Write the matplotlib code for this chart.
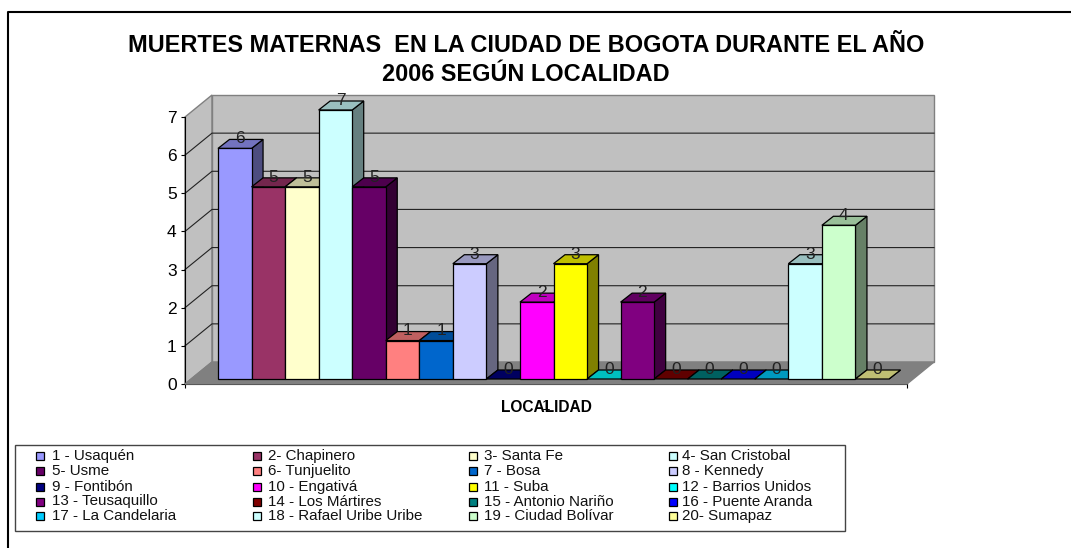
#!/usr/bin/env python3

"""Muertes maternas en Bogota 2006, 3D look bar chart."""

import matplotlib
matplotlib.use('Agg')
import matplotlib.pyplot as plt
from matplotlib.colors import to_rgb
from matplotlib.patches import Polygon, Rectangle

plt.rcParams['font.family'] = ['Liberation Sans', 'DejaVu Sans']

TITLE = 'MUERTES MATERNAS  EN LA CIUDAD DE BOGOTA DURANTE EL AÑO\n2006 SEGÚN LOCALIDAD'
X_TITLE = 'LOCALIDAD'
CATEGORY = '1'

LOCALIDADES = ['1 - Usaquén', '2- Chapinero', '3- Santa Fe', '4- San Cristobal',
               '5- Usme', '6- Tunjuelito', '7 - Bosa', '8 - Kennedy',
               '9 - Fontibón', '10 - Engativá', '11 - Suba', '12 - Barrios Unidos',
               '13 - Teusaquillo', '14 - Los Mártires', '15 - Antonio Nariño', '16 - Puente Aranda',
               '17 - La Candelaria', '18 - Rafael Uribe Uribe', '19 - Ciudad Bolívar', '20- Sumapaz']
MUERTES = [6, 5, 5, 7, 5, 1, 1, 3, 0, 2, 3, 0, 2, 0, 0, 0, 0, 3, 4, 0]
COLORES = ['#9999FF', '#993366', '#FFFFCC', '#CCFFFF',
           '#660066', '#FF8080', '#0066CC', '#CCCCFF',
           '#000080', '#FF00FF', '#FFFF00', '#00FFFF',
           '#800080', '#800000', '#008080', '#0000FF',
           '#00CCFF', '#CCFFFF', '#CCFFCC', '#FFFF99']
Y_TICKS = [0, 1, 2, 3, 4, 5, 6, 7]

W_PX = 1071
H_PX = 548


def px_axes(fig, left, top, right, bottom):
    """Add an axes given its box in image pixels (y down)."""
    return fig.add_axes([left / W_PX, 1 - bottom / H_PX,
                         (right - left) / W_PX, (bottom - top) / H_PX])


def shade(color, factor):
    return tuple(c * factor for c in to_rgb(color))


def draw_frame(ax):
    """Walls, floor and gridlines; ax is the front plane of the box."""
    depth_x = 27 / 722
    depth_y = 22 / (267 / 7)
    grey = '#808080'

    left_wall = [(0, 0), (depth_x, depth_y), (depth_x, 7 + depth_y), (0, 7)]
    back_wall = [(depth_x, depth_y), (1 + depth_x, depth_y),
                 (1 + depth_x, 7 + depth_y), (depth_x, 7 + depth_y)]
    floor = [(0, 0), (1, 0), (1 + depth_x, depth_y), (depth_x, depth_y)]

    ax.add_patch(Polygon(left_wall, closed=True, facecolor='#C0C0C0', edgecolor=grey,
                         linewidth=1, clip_on=False, zorder=1))
    ax.add_patch(Polygon(back_wall, closed=True, facecolor='#C0C0C0', edgecolor=grey,
                         linewidth=1, clip_on=False, zorder=1))
    for tick in Y_TICKS[1:-1]:
        ax.plot([0, depth_x, 1 + depth_x], [tick, tick + depth_y, tick + depth_y],
                color='#222222', linewidth=0.8, clip_on=False, zorder=2)
    ax.add_patch(Polygon(floor, closed=True, facecolor=grey, edgecolor=grey,
                         linewidth=1, clip_on=False, zorder=3))

    ax.set_xlim(0, 1)
    ax.set_ylim(0, 7)
    ax.set_yticks(Y_TICKS)
    ax.tick_params(axis='y', length=3, width=0.8, pad=3, labelsize=12.5)
    ax.set_xticks([0, 1])
    ax.set_xticklabels(['', ''])
    ax.tick_params(axis='x', which='major', length=3, width=0.8)
    ax.set_xticks([0.5], minor=True)
    ax.set_xticklabels([CATEGORY], minor=True)
    ax.tick_params(axis='x', which='minor', length=0, pad=10.5, labelsize=11)
    # the tick label sits behind the axis title, same as the original chart
    ax.set_xlabel(X_TITLE, fontsize=11.2, fontweight='bold', labelpad=-9)
    for side in ['top', 'right']:
        ax.spines[side].set_visible(False)
    ax.patch.set_visible(False)


def draw_bars(ax):
    """One box per localidad, left to right so later ones cover older sides."""
    depth_x = 11.5 / 33.55
    depth_y = 9 / (269 / 7)
    for i, (val, col) in enumerate(zip(MUERTES, COLORES)):
        side = [(i + 1, 0), (i + 1 + depth_x, depth_y),
                (i + 1 + depth_x, val + depth_y), (i + 1, val)]
        top = [(i, val), (i + 1, val),
               (i + 1 + depth_x, val + depth_y), (i + depth_x, val + depth_y)]
        ax.add_patch(Polygon(side, closed=True, facecolor=shade(col, 0.5),
                             edgecolor='black', linewidth=0.9, clip_on=False, zorder=4 + i * 0.01))
        ax.add_patch(Polygon(top, closed=True, facecolor=shade(col, 0.75),
                             edgecolor='black', linewidth=0.9, clip_on=False, zorder=4 + i * 0.01))
        if val > 0:
            ax.bar(i + 0.5, val, width=1, color=col, edgecolor='black', linewidth=0.9,
                   clip_on=False, zorder=4 + i * 0.01)
    for i, val in enumerate(MUERTES):
        ax.text(i + 0.65, val + 0.25, str(val), ha='center', va='center',
                fontsize=12.5, color='#222222', zorder=6)
    ax.set_xlim(0, 20)
    ax.set_ylim(0, 7)
    ax.axis('off')


def draw_legend(ax):
    """Legend box, 4 columns by 5 rows, in image pixels."""
    col_sw = [36, 253, 469, 669]
    col_txt = [52, 268, 484, 682]
    row_y = [456, 471, 487, 501.5, 516]
    ax.add_patch(Rectangle((15, 445), 830, 86, facecolor='white', edgecolor='#444444', linewidth=1))
    for i, (name, col) in enumerate(zip(LOCALIDADES, COLORES)):
        row = i // 4
        cln = i % 4
        ax.add_patch(Rectangle((col_sw[cln], row_y[row] - 4), 8, 8, facecolor=col,
                               edgecolor='black', linewidth=0.9))
        ax.text(col_txt[cln], row_y[row], name, ha='left', va='center', fontsize=10.9, color='#111111')


def main():
    fig = plt.figure(figsize=(W_PX / 100, H_PX / 100), dpi=100)

    page = fig.add_axes([0, 0, 1, 1])
    page.set_xlim(0, W_PX)
    page.set_ylim(H_PX, 0)
    page.axis('off')
    # image is cropped: the chart border only shows left and top
    page.plot([W_PX, 7.5, 7.5], [12, 12, H_PX], color='black', linewidth=1.5)
    page.text(526, 52, TITLE.split('\n')[0], ha='center', va='baseline',
              fontsize=16.9, fontweight='bold')
    page.text(526, 81, TITLE.split('\n')[1], ha='center', va='baseline',
              fontsize=16.9, fontweight='bold')
    draw_legend(page)

    ax_front = px_axes(fig, 185, 117, 907, 384)
    draw_frame(ax_front)

    ax_bars = px_axes(fig, 218, 110, 889, 379)
    draw_bars(ax_bars)

    fig.savefig('out.png', dpi=100)


if __name__ == "__main__":
    main()
